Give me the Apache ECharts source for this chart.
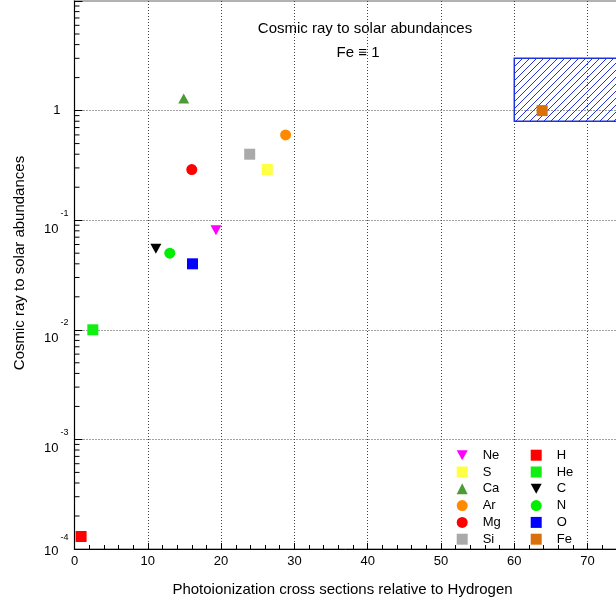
<!DOCTYPE html>
<html>
<head>
<meta charset="utf-8">
<script src="https://cdn.jsdelivr.net/npm/echarts@6/dist/echarts.min.js"></script>
<style>
  html, body { margin: 0; padding: 0; background: #fff; }
  #chart-container { width: 616px; height: 606px; }
</style>
</head>
<body>
<div id="chart-container"></div>
<script>
// element data: photoionization cross section (x) vs CR/solar abundance (y)
var elements = ['Ne', 'S', 'Ca', 'Ar', 'Mg', 'Si', 'H', 'He', 'C', 'N', 'O', 'Fe'];
var crossSections = [19.3, 26.3, 14.9, 28.8, 16.0, 23.9, 0.9, 2.5, 11.1, 13.0, 16.1, 63.8];
var abundances = [0.081, 0.29, 1.29, 0.60, 0.29, 0.40, 1.3e-4, 0.01, 0.055, 0.050, 0.040, 1.0];
var colors = ['#ff00ff', '#ffff44', '#4c9c36', '#ff8a00', '#ff0000', '#aaaaaa',
              '#ff0000', '#11ee11', '#000000', '#00ee00', '#0000ff', '#d9700a'];
var triDown = 'path://M0,0L10,0L5,9Z';
var symbols = [triDown, 'rect', 'triangle', 'circle', 'circle', 'rect',
               'rect', 'rect', triDown, 'circle', 'rect', 'rect'];

var legendLeft = ['Ne', 'S', 'Ca', 'Ar', 'Mg', 'Si'];
var legendRight = ['H', 'He', 'C', 'N', 'O', 'Fe'];

// Fe box (x from 60, y between 0.8 and 3)
var feBoxX = [60, 80];
var feBoxY = [0.8, 3];

// log axis minor ticks
var decades = [1e-4, 1e-3, 1e-2, 1e-1, 1];
var mantissas = [2, 3, 4, 5, 6, 7, 8, 9];
var minorTicks = [];
decades.forEach(function (d) {
  mantissas.forEach(function (m) { minorTicks.push([0, m * d]); });
});

// hatch pattern for the Fe box
var hatch = document.createElement('canvas');
hatch.width = 7;
hatch.height = 7;
var hc = hatch.getContext('2d');
hc.strokeStyle = '#2233e0';
hc.lineWidth = 1;
hc.beginPath();
hc.moveTo(-1, 8); hc.lineTo(8, -1);
hc.moveTo(-1, 1); hc.lineTo(1, -1);
hc.moveTo(6, 8); hc.lineTo(8, 6);
hc.stroke();

var dom = document.getElementById('chart-container');
var myChart = echarts.init(dom, null, { renderer: 'canvas' });

var series = elements.map(function (name, i) {
  var s = {
    name: name,
    type: 'scatter',
    symbol: symbols[i],
    symbolSize: symbols[i] === 'triangle' || symbols[i] === triDown ? [11, 10] : 11,
    itemStyle: { color: colors[i], opacity: 1 },
    z: 5,
    data: [[crossSections[i], abundances[i]]]
  };
  if (name === 'Fe') {
    s.markArea = {
      silent: true,
      itemStyle: {
        color: { image: hatch, repeat: 'repeat' },
        borderColor: '#1f33dd',
        borderWidth: 1.5
      },
      data: [[{ coord: [feBoxX[0], feBoxY[1]] }, { coord: [feBoxX[1], feBoxY[0]] }]]
    };
  }
  return s;
});

series.push({
  name: 'minor',
  type: 'custom',
  silent: true,
  data: minorTicks,
  renderItem: function (params, api) {
    var p = api.coord([0, api.value(1)]);
    return {
      type: 'line',
      shape: { x1: p[0], y1: p[1], x2: p[0] + 5, y2: p[1] },
      style: { stroke: '#000', lineWidth: 1 }
    };
  }
});

var legendBase = {
  orient: 'vertical',
  itemWidth: 11,
  itemHeight: 11,
  itemGap: 3.8,
  top: 443.7,
  textStyle: { fontFamily: 'Liberation Sans', fontSize: 13, color: '#000', padding: [0, 0, 0, 10] }
};

var option = {
  animation: false,
  textStyle: { fontFamily: 'Liberation Sans' },
  grid: {
    left: 74.5,
    top: 1,
    bottom: 57,
    right: -8.25,
    outerBoundsMode: 'none',
    show: true,
    borderColor: '#999',
    borderWidth: 1.5
  },
  legend: [
    Object.assign({}, legendBase, { left: 451.7, data: legendLeft }),
    Object.assign({}, legendBase, { left: 525.7, data: legendRight })
  ],
  xAxis: {
    type: 'value',
    min: 0,
    max: 75,
    interval: 10,
    axisLine: { lineStyle: { color: '#000', width: 1 } },
    axisTick: { inside: true, length: 6, lineStyle: { color: '#000' } },
    minorTick: { show: true, splitNumber: 5, length: 4, lineStyle: { color: '#000' } },
    axisLabel: {
      margin: 6, fontSize: 13, color: '#000',
      formatter: function (v) { return v % 10 === 0 ? String(v) : ''; }
    },
    splitLine: {
      show: true, showMinLine: false, showMaxLine: false,
      lineStyle: { color: '#444', type: [1, 2], width: 1 }
    }
  },
  yAxis: {
    type: 'log',
    logBase: 10,
    min: 1e-4,
    max: 10,
    axisLine: { show: true, lineStyle: { color: '#000', width: 1 } },
    axisTick: { show: true, inside: true, length: 8, lineStyle: { color: '#000' } },
    minorTick: { show: false },
    axisLabel: {
      margin: 6,
      color: '#000',
      align: 'right',
      formatter: function (v) {
        if (v >= 5) return '';
        if (Math.abs(v - 1) < 1e-9) return '{one|1}';
        var e = Math.round(Math.log10(v));
        if (e === -4) return '{sl|' + e + '}\n{bl|10}';
        return '{s|' + e + '}\n{b|10}';
      },
      rich: {
        one: { fontSize: 13, lineHeight: 13, padding: [0, 8, 0, 0] },
        s: { fontSize: 9, lineHeight: 18, align: 'right' },
        b: { fontSize: 13, lineHeight: 14, align: 'right', padding: [0, 10, 0, 0] },
        sl: { fontSize: 9, lineHeight: 4, align: 'right' },
        bl: { fontSize: 13, lineHeight: 22, align: 'right', padding: [0, 10, 0, 0] }
      }
    },
    splitLine: {
      show: true, showMinLine: false, showMaxLine: false,
      lineStyle: { color: '#444', type: [1, 2], width: 1 }
    }
  },
  graphic: [
    {
      type: 'text', x: 365, y: 29,
      style: { text: 'Cosmic ray to solar abundances', font: '15px "Liberation Sans"', fill: '#000', textAlign: 'center', textVerticalAlign: 'middle' }
    },
    {
      type: 'text', x: 358, y: 53,
      style: { text: 'Fe \u2261 1', font: '15px "Liberation Sans"', fill: '#000', textAlign: 'center', textVerticalAlign: 'middle' }
    },
    {
      type: 'text', x: 342.5, y: 590,
      style: { text: 'Photoionization cross sections relative to Hydrogen', font: '15px "Liberation Sans"', fill: '#000', textAlign: 'center', textVerticalAlign: 'middle' }
    },
    {
      type: 'text', x: 20, y: 263, rotation: Math.PI / 2,
      style: { text: 'Cosmic ray to solar abundances', font: '15px "Liberation Sans"', fill: '#000', textAlign: 'center', textVerticalAlign: 'middle' }
    }
  ],
  series: series
};

myChart.setOption(option);
window.addEventListener('resize', myChart.resize);
</script>
</body>
</html>
